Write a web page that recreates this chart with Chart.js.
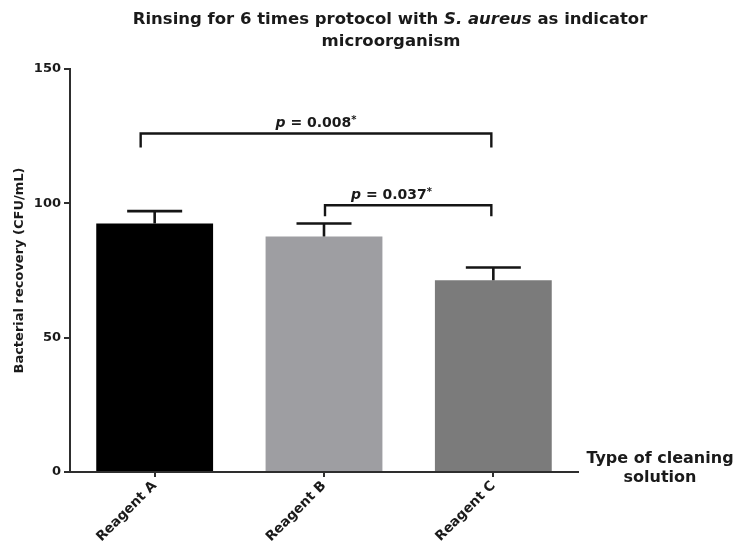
<!DOCTYPE html>
<html>
<head>
<meta charset="utf-8">
<script src="https://cdn.jsdelivr.net/npm/chart.js@4.4.1/dist/chart.umd.min.js"></script>
<style>
  html, body { margin: 0; padding: 0; background: #ffffff; }
  #wrap { width: 738px; height: 543px; position: relative; }
</style>
</head>
<body>
<div id="wrap"><canvas id="chart" width="738" height="543"></canvas></div>
<script>
// Bacterial recovery after rinsing 6 times, S. aureus indicator
const categories = ['Reagent A', 'Reagent B', 'Reagent C'];
const recoveryMean = [92.5, 87.7, 71.4];
const recoveryErr = [4.6, 4.8, 4.7];
const barColors = ['#000000', '#9e9ea2', '#7b7b7b'];
const yTicks = [0, 50, 100, 150];

// significance brackets: from / to category, bar level, end-tick level, p value
const bracketFrom = [0, 1];
const bracketTo = [2, 2];
const bracketY = [126, 99.3];
const bracketDrop = [120.8, 95.2];
const bracketP = ['0.008', '0.037'];

const FONT = '"DejaVu Sans", "Liberation Sans", Arial, sans-serif';
const INK = '#1a1a1a';
const AXIS = '#2e2e2e';

function drawSegments(ctx, segs, cx, y) {
  let total = 0;
  segs.forEach(s => { ctx.font = s.font; s.w = ctx.measureText(s.text).width; total += s.w; });
  let x = cx - total / 2;
  segs.forEach(s => {
    ctx.font = s.font;
    ctx.fillText(s.text, x, y + (s.dy || 0));
    x += s.w;
  });
}

const annotations = {
  id: 'annotations',
  afterDatasetsDraw(chart) {
    const ctx = chart.ctx;
    const xs = chart.scales.x, ys = chart.scales.y;
    ctx.save();
    ctx.strokeStyle = '#151515';
    ctx.lineCap = 'butt';

    // upper error bars
    ctx.lineWidth = 2.6;
    recoveryMean.forEach((m, i) => {
      const cx = xs.getPixelForValue(i);
      const yTop = ys.getPixelForValue(m + recoveryErr[i]);
      const yBar = ys.getPixelForValue(m);
      ctx.beginPath();
      ctx.moveTo(cx, yBar);
      ctx.lineTo(cx, yTop);
      ctx.moveTo(cx - 27.5, yTop);
      ctx.lineTo(cx + 27.5, yTop);
      ctx.stroke();
    });

    // significance brackets
    ctx.lineWidth = 2.4;
    ctx.fillStyle = INK;
    ctx.textBaseline = 'alphabetic';
    ctx.textAlign = 'left';
    const leftShift = [-14, 1];
    bracketFrom.forEach((a, k) => {
      const x1 = xs.getPixelForValue(a) + leftShift[k];
      const x2 = xs.getPixelForValue(bracketTo[k]) - 2;
      const yb = ys.getPixelForValue(bracketY[k]);
      const yd = ys.getPixelForValue(bracketDrop[k]);
      ctx.beginPath();
      ctx.moveTo(x1, yd);
      ctx.lineTo(x1, yb);
      ctx.lineTo(x2, yb);
      ctx.lineTo(x2, yd);
      ctx.stroke();
      const cx = k === 0 ? (x1 + x2) / 2 : x1 + (x2 - x1) * 0.4;
      drawSegments(ctx, [
        { text: 'p', font: 'italic bold 14px ' + FONT },
        { text: ' = ' + bracketP[k], font: 'bold 14px ' + FONT },
        { text: '*', font: 'bold 10px ' + FONT, dy: -4 }
      ], cx, yb - 6);
    });
    ctx.restore();
  },
  afterDraw(chart) {
    const ctx = chart.ctx;
    ctx.save();
    ctx.fillStyle = INK;
    ctx.textBaseline = 'middle';
    ctx.textAlign = 'left';
    // chart title, species name in italics
    drawSegments(ctx, [
      { text: 'Rinsing for 6 times protocol with ', font: 'bold 16.5px ' + FONT },
      { text: 'S. aureus', font: 'italic bold 16.5px ' + FONT },
      { text: ' as indicator', font: 'bold 16.5px ' + FONT }
    ], 390, 20);
    drawSegments(ctx, [{ text: 'microorganism', font: 'bold 16.5px ' + FONT }], 391, 42);
    // x axis title at the right end of the axis
    drawSegments(ctx, [{ text: 'Type of cleaning', font: 'bold 16px ' + FONT }], 660, 459);
    drawSegments(ctx, [{ text: 'solution', font: 'bold 16px ' + FONT }], 660, 478);
    ctx.restore();
  }
};

new Chart(document.getElementById('chart'), {
  type: 'bar',
  data: {
    labels: categories,
    datasets: [{
      data: recoveryMean,
      backgroundColor: barColors,
      borderWidth: 0,
      categoryPercentage: 1.0,
      barPercentage: 0.69
    }]
  },
  options: {
    responsive: false,
    animation: false,
    layout: { padding: { top: 69, right: 160, left: 0, bottom: 0 } },
    plugins: {
      legend: { display: false },
      tooltip: { enabled: false },
      title: { display: false }
    },
    scales: {
      x: {
        afterFit(scale) { scale.height = 71; },
        border: { display: true, color: AXIS, width: 2 },
        grid: { display: true, drawOnChartArea: false, offset: false, drawTicks: true, tickLength: 5, color: AXIS, lineWidth: 2 },
        ticks: {
          minRotation: 45, maxRotation: 45, padding: 1,
          color: INK,
          font: { family: FONT, size: 13.5, weight: 'bold' }
        }
      },
      y: {
        min: 0, max: 150,
        afterFit(scale) { scale.width = 70; },
        afterBuildTicks(scale) { scale.ticks = yTicks.map(v => ({ value: v })); },
        border: { display: true, color: AXIS, width: 2 },
        grid: { display: true, drawOnChartArea: false, drawTicks: true, tickLength: 6, color: AXIS, lineWidth: 2 },
        ticks: {
          padding: 3,
          color: INK,
          font: { family: FONT, size: 13, weight: 'bold' }
        },
        title: {
          display: true,
          text: 'Bacterial recovery (CFU/mL)',
          color: INK,
          padding: { top: 12, bottom: 0 },
          font: { family: FONT, size: 13, weight: 'bold' }
        }
      }
    }
  },
  plugins: [annotations]
});
</script>
</body>
</html>
